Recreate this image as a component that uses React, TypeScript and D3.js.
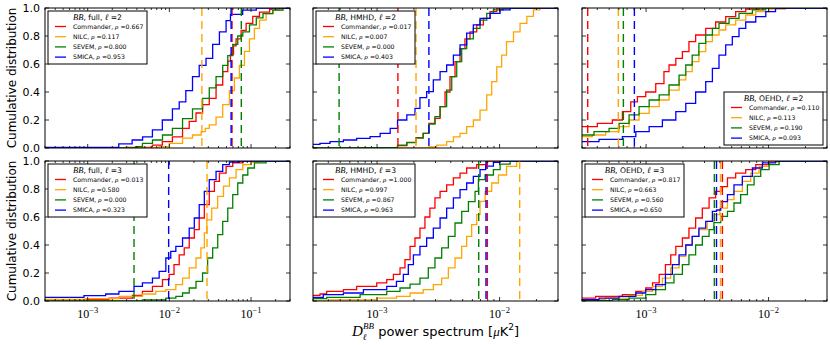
import { useEffect, useRef } from "react";
import * as d3 from "d3";

type Pt = [number, number];

const methods = ["Commander", "NILC", "SEVEM", "SMICA"];
const methodColors = ["#ff0000", "#ffa500", "#008000", "#0000ff"];
const yTickValues = [0, 0.2, 0.4, 0.6, 0.8, 1.0];
const splits = ["full", "HMHD", "OEHD"];
const ells = [2, 3];
const xDomains: [number, number][] = [
  [3e-4, 0.3],
  [3e-4, 3e-2],
  [3e-4, 3e-2],
];

const fullL2Commander: Pt[] = [[3e-4, 0], [2.9e-3, 0.005], [6.2e-3, 0.02], [8.2e-3, 0.045], [1.09e-2, 0.08], [1.45e-2, 0.14], [1.75e-2, 0.19], [2.12e-2, 0.25], [2.55e-2, 0.31], [3.08e-2, 0.355], [3.73e-2, 0.45], [4.5e-2, 0.545], [5.19e-2, 0.62], [5.6e-2, 0.667], [6.1e-2, 0.73], [6.56e-2, 0.78], [7.56e-2, 0.84], [8.71e-2, 0.89], [0.105, 0.94], [0.127, 0.97], [0.169, 0.99], [0.224, 1.0]];
const fullL2Nilc: Pt[] = [[3e-4, 0], [7.5e-3, 0.01], [9.95e-3, 0.033], [1.45e-2, 0.07], [1.92e-2, 0.093], [2.45e-2, 0.117], [2.75e-2, 0.14], [3.08e-2, 0.165], [3.73e-2, 0.22], [4.5e-2, 0.31], [5.44e-2, 0.41], [6.26e-2, 0.5], [7.21e-2, 0.59], [8.31e-2, 0.69], [9.57e-2, 0.78], [0.11, 0.855], [0.127, 0.914], [0.153, 0.96], [0.185, 0.986], [0.246, 1.0]];
const fullL2Sevem: Pt[] = [[3e-4, 0], [3.87e-3, 0.01], [4.68e-3, 0.033], [6.21e-3, 0.057], [8.24e-3, 0.093], [1.09e-2, 0.14], [1.45e-2, 0.21], [1.92e-2, 0.28], [2.55e-2, 0.355], [3.08e-2, 0.43], [3.73e-2, 0.51], [4.5e-2, 0.59], [5.19e-2, 0.66], [5.97e-2, 0.74], [6.88e-2, 0.8], [7.93e-2, 0.83], [9.57e-2, 0.88], [0.116, 0.93], [0.14, 0.96], [0.185, 0.985], [0.246, 1.0]];
const fullL2Smica: Pt[] = [[3e-4, 0.005], [2.4e-3, 0.03], [3.5e-3, 0.057], [4.7e-3, 0.08], [6.2e-3, 0.13], [8.2e-3, 0.2], [1.09e-2, 0.28], [1.32e-2, 0.33], [1.59e-2, 0.41], [1.92e-2, 0.51], [2.32e-2, 0.59], [2.81e-2, 0.64], [3.39e-2, 0.74], [4.1e-2, 0.83], [4.95e-2, 0.91], [5.6e-2, 0.955], [7.9e-2, 0.985], [0.116, 1.0]];

const hmhdL2Commander: Pt[] = [[3e-4, 0], [9.94e-4, 0.003], [1.47e-3, 0.017], [1.75e-3, 0.04], [2.08e-3, 0.074], [2.38e-3, 0.105], [2.65e-3, 0.176], [2.97e-3, 0.212], [3.27e-3, 0.295], [3.59e-3, 0.4], [3.94e-3, 0.51], [4.33e-3, 0.617], [4.76e-3, 0.71], [5.22e-3, 0.78], [5.74e-3, 0.83], [6.51e-3, 0.88], [7.38e-3, 0.926], [8.37e-3, 0.974], [9.49e-3, 1.0]];
const hmhdL2Nilc: Pt[] = [[3e-4, 0], [2.65e-3, 0.007], [3.07e-3, 0.02], [3.7e-3, 0.045], [4.2e-3, 0.08], [4.76e-3, 0.105], [5.39e-3, 0.152], [6.11e-3, 0.2], [6.93e-3, 0.27], [7.86e-3, 0.38], [8.63e-3, 0.474], [9.49e-3, 0.58], [1.04e-2, 0.664], [1.14e-2, 0.76], [1.3e-2, 0.83], [1.47e-2, 0.89], [1.67e-2, 0.94], [1.89e-2, 0.986], [2.14e-2, 1.0]];
const hmhdL2Sevem: Pt[] = [[3e-4, 0], [7.27e-4, 0.003], [1.47e-3, 0.02], [1.75e-3, 0.038], [2.08e-3, 0.07], [2.38e-3, 0.105], [2.65e-3, 0.17], [2.97e-3, 0.224], [3.27e-3, 0.295], [3.7e-3, 0.414], [4.07e-3, 0.51], [4.47e-3, 0.617], [4.91e-3, 0.71], [5.39e-3, 0.78], [6.11e-3, 0.855], [6.93e-3, 0.914], [7.86e-3, 0.962], [8.91e-3, 0.986], [1.07e-2, 1.0]];
const hmhdL2Smica: Pt[] = [[3e-4, 0.026], [3.42e-4, 0.033], [4.13e-4, 0.045], [5.31e-4, 0.057], [6.82e-4, 0.069], [8.77e-4, 0.081], [1.06e-3, 0.105], [1.28e-3, 0.14], [1.47e-3, 0.2], [1.75e-3, 0.236], [2.04e-3, 0.283], [2.24e-3, 0.36], [2.54e-3, 0.403], [2.88e-3, 0.486], [3.27e-3, 0.545], [3.7e-3, 0.593], [4.2e-3, 0.664], [4.76e-3, 0.736], [5.39e-3, 0.82], [6.11e-3, 0.88], [6.93e-3, 0.926], [8.37e-3, 0.962], [1.01e-2, 0.986], [1.22e-2, 1.0]];

const oehdL2Commander: Pt[] = [[3e-4, 0.152], [4.0e-4, 0.176], [5.31e-4, 0.2], [6.41e-4, 0.26], [7.5e-4, 0.33], [8.5e-4, 0.367], [9.94e-4, 0.4], [1.2e-3, 0.46], [1.4e-3, 0.545], [1.54e-3, 0.593], [1.75e-3, 0.64], [1.98e-3, 0.688], [2.24e-3, 0.76], [2.54e-3, 0.807], [3.07e-3, 0.855], [3.7e-3, 0.9], [4.47e-3, 0.938], [5.39e-3, 0.974], [6.51e-3, 0.993], [8.37e-3, 1.0]];
const oehdL2Nilc: Pt[] = [[3e-4, 0.081], [3.64e-4, 0.093], [4.68e-4, 0.117], [6.02e-4, 0.152], [7.27e-4, 0.2], [8.77e-4, 0.248], [1.06e-3, 0.295], [1.28e-3, 0.343], [1.54e-3, 0.414], [1.86e-3, 0.486], [2.11e-3, 0.545], [2.38e-3, 0.617], [2.7e-3, 0.688], [3.07e-3, 0.76], [3.48e-3, 0.807], [3.94e-3, 0.843], [4.47e-3, 0.88], [5.39e-3, 0.914], [6.51e-3, 0.95], [7.86e-3, 0.974], [1.01e-2, 0.993], [1.38e-2, 1.0]];
const oehdL2Sevem: Pt[] = [[3e-4, 0.093], [3.76e-4, 0.117], [4.99e-4, 0.14], [6.02e-4, 0.176], [7.27e-4, 0.236], [8.77e-4, 0.295], [1.06e-3, 0.343], [1.28e-3, 0.379], [1.54e-3, 0.45], [1.86e-3, 0.521], [2.11e-3, 0.593], [2.38e-3, 0.664], [2.7e-3, 0.748], [3.07e-3, 0.807], [3.48e-3, 0.855], [3.94e-3, 0.89], [4.76e-3, 0.926], [5.74e-3, 0.962], [7.38e-3, 0.986], [9.49e-3, 1.0]];
const oehdL2Smica: Pt[] = [[3e-4, 0.045], [4.13e-4, 0.062], [6.41e-4, 0.081], [8.25e-4, 0.117], [1.06e-3, 0.152], [1.36e-3, 0.2], [1.75e-3, 0.26], [2.11e-3, 0.319], [2.54e-3, 0.4], [3.07e-3, 0.474], [3.48e-3, 0.569], [3.94e-3, 0.664], [4.47e-3, 0.736], [5.06e-3, 0.795], [5.74e-3, 0.855], [6.51e-3, 0.9], [7.86e-3, 0.938], [9.49e-3, 0.974], [1.14e-2, 0.998], [1.38e-2, 1.0]];

const fullL3Commander: Pt[] = [[3e-4, 0.01], [1.82e-3, 0.02], [3.52e-3, 0.04], [4.68e-3, 0.069], [6.21e-3, 0.105], [8.24e-3, 0.152], [9.95e-3, 0.19], [1.14e-2, 0.26], [1.32e-2, 0.33], [1.52e-2, 0.38], [1.75e-2, 0.45], [2.02e-2, 0.51], [2.32e-2, 0.593], [2.68e-2, 0.688], [3.08e-2, 0.783], [3.56e-2, 0.855], [4.1e-2, 0.914], [4.95e-2, 0.962], [5.97e-2, 0.986], [7.93e-2, 1.0]];
const fullL3Nilc: Pt[] = [[3e-4, 0.012], [9.4e-4, 0.017], [2.41e-3, 0.033], [4.68e-3, 0.05], [6.82e-3, 0.069], [9.05e-3, 0.081], [1.2e-2, 0.117], [1.45e-2, 0.164], [1.75e-2, 0.236], [2.12e-2, 0.307], [2.43e-2, 0.379], [2.68e-2, 0.486], [2.88e-2, 0.58], [3.3e-2, 0.664], [3.9e-2, 0.748], [4.6e-2, 0.82], [5.44e-2, 0.88], [6.56e-2, 0.938], [7.93e-2, 0.974], [0.1, 0.993], [0.127, 1.0]];
const fullL3Sevem: Pt[] = [[3e-4, 0], [4.68e-3, 0.007], [9.05e-3, 0.02], [1.2e-2, 0.033], [1.45e-2, 0.057], [1.75e-2, 0.093], [2.12e-2, 0.14], [2.55e-2, 0.2], [2.94e-2, 0.307], [3.39e-2, 0.379], [3.91e-2, 0.474], [4.5e-2, 0.569], [5.19e-2, 0.664], [5.97e-2, 0.76], [6.88e-2, 0.843], [7.93e-2, 0.9], [9.13e-2, 0.95], [0.11, 0.986], [0.153, 1.0]];
const fullL3Smica: Pt[] = [[3e-4, 0.026], [9.0e-4, 0.038], [1.66e-3, 0.05], [2.41e-3, 0.069], [3.69e-3, 0.105], [4.68e-3, 0.129], [6.21e-3, 0.164], [7.5e-3, 0.212], [9.05e-3, 0.307], [1.04e-2, 0.355], [1.2e-2, 0.39], [1.45e-2, 0.45], [1.75e-2, 0.521], [2.02e-2, 0.593], [2.32e-2, 0.688], [2.68e-2, 0.783], [3.08e-2, 0.867], [3.73e-2, 0.926], [4.5e-2, 0.974], [5.44e-2, 0.993], [7.21e-2, 1.0]];

const hmhdL3Commander: Pt[] = [[3e-4, 0.04], [3.42e-4, 0.05], [3.88e-4, 0.069], [5.31e-4, 0.081], [6.82e-4, 0.105], [9.94e-4, 0.129], [1.2e-3, 0.152], [1.36e-3, 0.19], [1.54e-3, 0.236], [1.69e-3, 0.295], [1.86e-3, 0.39], [2.04e-3, 0.45], [2.24e-3, 0.521], [2.46e-3, 0.6], [2.7e-3, 0.664], [2.97e-3, 0.736], [3.27e-3, 0.783], [3.7e-3, 0.83], [4.2e-3, 0.88], [4.76e-3, 0.914], [5.39e-3, 0.95], [6.51e-3, 0.974], [7.86e-3, 1.0]];
const hmhdL3Nilc: Pt[] = [[3e-4, 0], [4.13e-4, 0.007], [9.94e-4, 0.02], [1.44e-3, 0.033], [1.86e-3, 0.057], [2.38e-3, 0.081], [2.88e-3, 0.117], [3.37e-3, 0.164], [3.82e-3, 0.236], [4.33e-3, 0.307], [4.91e-3, 0.39], [5.39e-3, 0.462], [5.92e-3, 0.545], [6.51e-3, 0.617], [6.93e-3, 0.712], [7.62e-3, 0.783], [8.63e-3, 0.843], [9.8e-3, 0.9], [1.14e-2, 0.962], [1.38e-2, 0.997], [1.67e-2, 1.0]];
const hmhdL3Sevem: Pt[] = [[3e-4, 0.017], [3.88e-4, 0.026], [7.27e-4, 0.045], [1.2e-3, 0.069], [1.54e-3, 0.093], [1.86e-3, 0.121], [2.24e-3, 0.164], [2.62e-3, 0.236], [2.97e-3, 0.307], [3.37e-3, 0.379], [3.82e-3, 0.462], [4.33e-3, 0.557], [4.91e-3, 0.64], [5.57e-3, 0.71], [6.31e-3, 0.783], [6.72e-3, 0.867], [7.62e-3, 0.9], [8.91e-3, 0.938], [1.01e-2, 0.978], [1.22e-2, 1.0]];
const hmhdL3Smica: Pt[] = [[3e-4, 0.026], [3.64e-4, 0.045], [5.31e-4, 0.057], [7.74e-4, 0.081], [1.2e-3, 0.105], [1.44e-3, 0.14], [1.64e-3, 0.19], [1.8e-3, 0.26], [1.98e-3, 0.33], [2.24e-3, 0.39], [2.54e-3, 0.45], [2.88e-3, 0.521], [3.27e-3, 0.593], [3.7e-3, 0.664], [4.2e-3, 0.736], [4.76e-3, 0.795], [5.39e-3, 0.843], [6.11e-3, 0.89], [6.93e-3, 0.938], [7.7e-3, 0.963], [8.91e-3, 0.99], [1.01e-2, 1.0]];

const oehdL3Commander: Pt[] = [[3e-4, 0.02], [3.88e-4, 0.033], [6.41e-4, 0.045], [8.25e-4, 0.069], [9.94e-4, 0.093], [1.13e-3, 0.129], [1.28e-3, 0.19], [1.44e-3, 0.26], [1.59e-3, 0.33], [1.75e-3, 0.39], [1.98e-3, 0.45], [2.24e-3, 0.521], [2.54e-3, 0.593], [2.88e-3, 0.664], [3.27e-3, 0.736], [3.7e-3, 0.783], [4.07e-3, 0.817], [4.62e-3, 0.88], [5.39e-3, 0.914], [6.51e-3, 0.938], [7.86e-3, 0.974], [1.01e-2, 0.998], [1.22e-2, 1.0]];
const oehdL3Nilc: Pt[] = [[3e-4, 0.01], [4.68e-4, 0.02], [7.27e-4, 0.04], [9.34e-4, 0.069], [1.13e-3, 0.105], [1.36e-3, 0.164], [1.59e-3, 0.236], [1.86e-3, 0.319], [2.11e-3, 0.4], [2.38e-3, 0.462], [2.7e-3, 0.51], [3.16e-3, 0.569], [3.59e-3, 0.617], [4.0e-3, 0.664], [4.62e-3, 0.724], [5.22e-3, 0.783], [6.11e-3, 0.855], [7.15e-3, 0.914], [8.37e-3, 0.962], [1.01e-2, 0.993], [1.22e-2, 1.0]];
const oehdL3Sevem: Pt[] = [[3e-4, 0.003], [5.31e-4, 0.01], [7.27e-4, 0.02], [9.94e-4, 0.045], [1.2e-3, 0.081], [1.44e-3, 0.129], [1.69e-3, 0.19], [1.98e-3, 0.26], [2.24e-3, 0.33], [2.54e-3, 0.4], [2.88e-3, 0.462], [3.27e-3, 0.51], [3.58e-3, 0.56], [4.07e-3, 0.605], [4.62e-3, 0.64], [5.22e-3, 0.7], [5.92e-3, 0.76], [6.72e-3, 0.83], [7.62e-3, 0.89], [8.63e-3, 0.938], [1.01e-2, 0.974], [1.22e-2, 1.0]];
const oehdL3Smica: Pt[] = [[3e-4, 0.01], [4.13e-4, 0.02], [6.02e-4, 0.033], [8.25e-4, 0.057], [9.94e-4, 0.081], [1.2e-3, 0.117], [1.44e-3, 0.19], [1.64e-3, 0.26], [1.86e-3, 0.33], [2.11e-3, 0.4], [2.38e-3, 0.462], [2.7e-3, 0.521], [3.07e-3, 0.569], [3.48e-3, 0.64], [3.76e-3, 0.65], [4.07e-3, 0.71], [4.62e-3, 0.76], [5.22e-3, 0.83], [6.11e-3, 0.89], [7.38e-3, 0.95], [8.91e-3, 0.986], [1.14e-2, 1.0]];

// observed values (dashed lines), in Commander, NILC, SEVEM, SMICA order; null = off the plot
const obsFullL2 = [5.85e-2, 2.5e-2, 7.6e-2, 5.7e-2];
const obsHmhdL2 = [1.48e-3, 2.08e-3, 4.9e-4, 2.65e-3];
const obsOehdL2 = [3.34e-4, 5.94e-4, 6.53e-4, 8.03e-4];
const obsFullL3 = [null, 2.89e-2, 3.69e-3, 9.8e-3];
const obsHmhdL3 = [7.95e-3, 1.46e-2, 6.76e-3, 7.75e-3];
const obsOehdL3 = [4.2e-3, 4.05e-3, 3.61e-3, 3.76e-3];

// probabilities quoted in the legends
const rhoFullL2 = [0.667, 0.117, 0.8, 0.953];
const rhoHmhdL2 = [0.017, 0.007, 0.0, 0.403];
const rhoOehdL2 = [0.11, 0.113, 0.19, 0.093];
const rhoFullL3 = [0.013, 0.58, 0.0, 0.323];
const rhoHmhdL3 = [1.0, 0.997, 0.867, 0.963];
const rhoOehdL3 = [0.817, 0.663, 0.56, 0.65];

const panels = [
  { col: 0, row: 0, curves: [fullL2Commander, fullL2Nilc, fullL2Sevem, fullL2Smica], observed: obsFullL2, rho: rhoFullL2, legend: "ul" },
  { col: 1, row: 0, curves: [hmhdL2Commander, hmhdL2Nilc, hmhdL2Sevem, hmhdL2Smica], observed: obsHmhdL2, rho: rhoHmhdL2, legend: "ul" },
  { col: 2, row: 0, curves: [oehdL2Commander, oehdL2Nilc, oehdL2Sevem, oehdL2Smica], observed: obsOehdL2, rho: rhoOehdL2, legend: "lr" },
  { col: 0, row: 1, curves: [fullL3Commander, fullL3Nilc, fullL3Sevem, fullL3Smica], observed: obsFullL3, rho: rhoFullL3, legend: "ul" },
  { col: 1, row: 1, curves: [hmhdL3Commander, hmhdL3Nilc, hmhdL3Sevem, hmhdL3Smica], observed: obsHmhdL3, rho: rhoHmhdL3, legend: "ul" },
  { col: 2, row: 1, curves: [oehdL3Commander, oehdL3Nilc, oehdL3Sevem, oehdL3Smica], observed: obsOehdL3, rho: rhoOehdL3, legend: "ul" },
];

const SANS = "DejaVu Sans, sans-serif";
const SERIF = "Liberation Serif, DejaVu Serif, serif";

export default function App() {
  const ref = useRef<SVGSVGElement>(null);

  useEffect(() => {
    if (!ref.current) return;
    document.body.style.margin = "0";
    const svg = d3.select(ref.current);
    svg.selectAll("*").remove();

    const colLeft = [45, 313, 582];
    const rowTop = [8, 161];
    const pw = 245;
    const ph = 140;

    panels.forEach((p, i) => {
      const x = d3.scaleLog().domain(xDomains[p.col]).range([0, pw]);
      const y = d3.scaleLinear().domain([0, 1]).range([ph, 0]);

      const g = svg
        .append("g")
        .attr("transform", `translate(${colLeft[p.col]},${rowTop[p.row]})`);

      const clipId = `clip-${i}`;
      g.append("clipPath").attr("id", clipId).append("rect").attr("width", pw).attr("height", ph);
      const plot = g.append("g").attr("clip-path", `url(#${clipId})`);

      // step CDFs
      const line = d3
        .line<Pt>()
        .x((d) => x(d[0]))
        .y((d) => y(d[1]))
        .curve(d3.curveStepAfter);
      p.curves.forEach((c, k) => {
        plot
          .append("path")
          .attr("d", `${line(c)}H${pw}`)
          .attr("fill", "none")
          .attr("stroke", methodColors[k])
          .attr("stroke-width", 1.3);
      });

      // observed values
      p.observed.forEach((v, k) => {
        if (v == null) return;
        plot
          .append("line")
          .attr("x1", x(v))
          .attr("x2", x(v))
          .attr("y1", 0)
          .attr("y2", ph)
          .attr("stroke", methodColors[k])
          .attr("stroke-width", 1.4)
          .attr("stroke-dasharray", "8,5");
      });

      // ticks (inward, all four sides)
      const ticks = g.append("g").attr("stroke", "black").attr("stroke-width", 0.8);
      x.ticks().forEach((t) => {
        const lg = Math.log10(t);
        const major = Math.abs(lg - Math.round(lg)) < 1e-6;
        const len = major ? 4 : 2;
        const xp = x(t);
        ticks.append("line").attr("x1", xp).attr("x2", xp).attr("y1", ph).attr("y2", ph - len);
        ticks.append("line").attr("x1", xp).attr("x2", xp).attr("y1", 0).attr("y2", len);
        if (major && p.row === 1) {
          const lab = g
            .append("text")
            .attr("x", xp)
            .attr("y", ph + 17)
            .attr("text-anchor", "middle")
            .attr("font-family", SERIF)
            .attr("font-size", 12);
          lab.append("tspan").text("10");
          lab
            .append("tspan")
            .attr("font-size", 8.5)
            .attr("dy", -5)
            .text(`\u2212${Math.abs(Math.round(lg))}`);
        }
      });
      yTickValues.forEach((t) => {
        const yp = y(t);
        ticks.append("line").attr("x1", 0).attr("x2", 4).attr("y1", yp).attr("y2", yp);
        ticks.append("line").attr("x1", pw).attr("x2", pw - 4).attr("y1", yp).attr("y2", yp);
        if (p.col === 0) {
          g.append("text")
            .attr("x", -5)
            .attr("y", yp)
            .attr("dy", "0.36em")
            .attr("text-anchor", "end")
            .attr("font-family", SANS)
            .attr("font-size", 11)
            .text(t.toFixed(1));
        }
      });

      // frame
      g.append("rect")
        .attr("width", pw)
        .attr("height", ph)
        .attr("fill", "none")
        .attr("stroke", "black")
        .attr("stroke-width", 1);

      // legend
      const lw = 99;
      const lh = 53;
      const lx = p.legend === "ul" ? 3 : pw - 4 - lw;
      const ly = p.legend === "ul" ? 3 : ph - 3 - lh;
      const leg = g.append("g").attr("transform", `translate(${lx},${ly})`);
      leg
        .append("rect")
        .attr("width", lw)
        .attr("height", lh)
        .attr("fill", "white")
        .attr("stroke", "black")
        .attr("stroke-width", 1);
      const title = leg
        .append("text")
        .attr("x", lw / 2)
        .attr("y", 9)
        .attr("text-anchor", "middle")
        .attr("font-family", SANS)
        .attr("font-size", 7.6);
      title.append("tspan").attr("font-family", SERIF).attr("font-style", "italic").attr("font-size", 8.5).text("BB");
      title.append("tspan").text(`, ${splits[p.col]}, `);
      title.append("tspan").attr("font-family", SERIF).attr("font-style", "italic").attr("font-size", 8.5).text("\u2113");
      title.append("tspan").text(` =${ells[p.row]}`);

      methods.forEach((m, k) => {
        const cy = 15.5 + k * 10.2;
        leg
          .append("line")
          .attr("x1", 7)
          .attr("x2", 18)
          .attr("y1", cy)
          .attr("y2", cy)
          .attr("stroke", methodColors[k])
          .attr("stroke-width", 1.3);
        const t = leg
          .append("text")
          .attr("x", 25)
          .attr("y", cy)
          .attr("dy", "0.35em")
          .attr("font-family", SANS)
          .attr("font-size", 6.2);
        t.append("tspan").text(`${m}, `);
        t.append("tspan").attr("font-family", SERIF).attr("font-style", "italic").attr("font-size", 7).text("\u03c1");
        t.append("tspan").text(` =${p.rho[k].toFixed(3)}`);
      });
    });

    // y labels
    rowTop.forEach((top) => {
      svg
        .append("text")
        .attr("transform", `translate(16,${top + ph / 2}) rotate(-90)`)
        .attr("text-anchor", "middle")
        .attr("font-family", SANS)
        .attr("font-size", 12)
        .text("Cumulative distribution");
    });

    // x label
    const xl = svg
      .append("text")
      .attr("x", colLeft[1] + pw / 2)
      .attr("y", 336)
      .attr("text-anchor", "middle")
      .attr("font-family", SANS)
      .attr("font-size", 13);
    xl.append("tspan").attr("font-family", SERIF).attr("font-style", "italic").attr("font-size", 15).text("D");
    xl.append("tspan").attr("font-family", SERIF).attr("font-style", "italic").attr("font-size", 9).attr("dy", 4).text("\u2113");
    xl.append("tspan").attr("font-family", SERIF).attr("font-style", "italic").attr("font-size", 9).attr("dx", -3.5).attr("dy", -11).text("BB");
    xl.append("tspan").attr("dy", 7).text(" power spectrum [");
    xl.append("tspan").attr("font-family", SERIF).attr("font-style", "italic").text("\u03bc");
    xl.append("tspan").text("K");
    xl.append("tspan").attr("font-size", 9).attr("dy", -6).text("2");
    xl.append("tspan").attr("dy", 6).text("]");
  }, []);

  return <svg ref={ref} width={830} height={345} style={{ display: "block" }} />;
}
